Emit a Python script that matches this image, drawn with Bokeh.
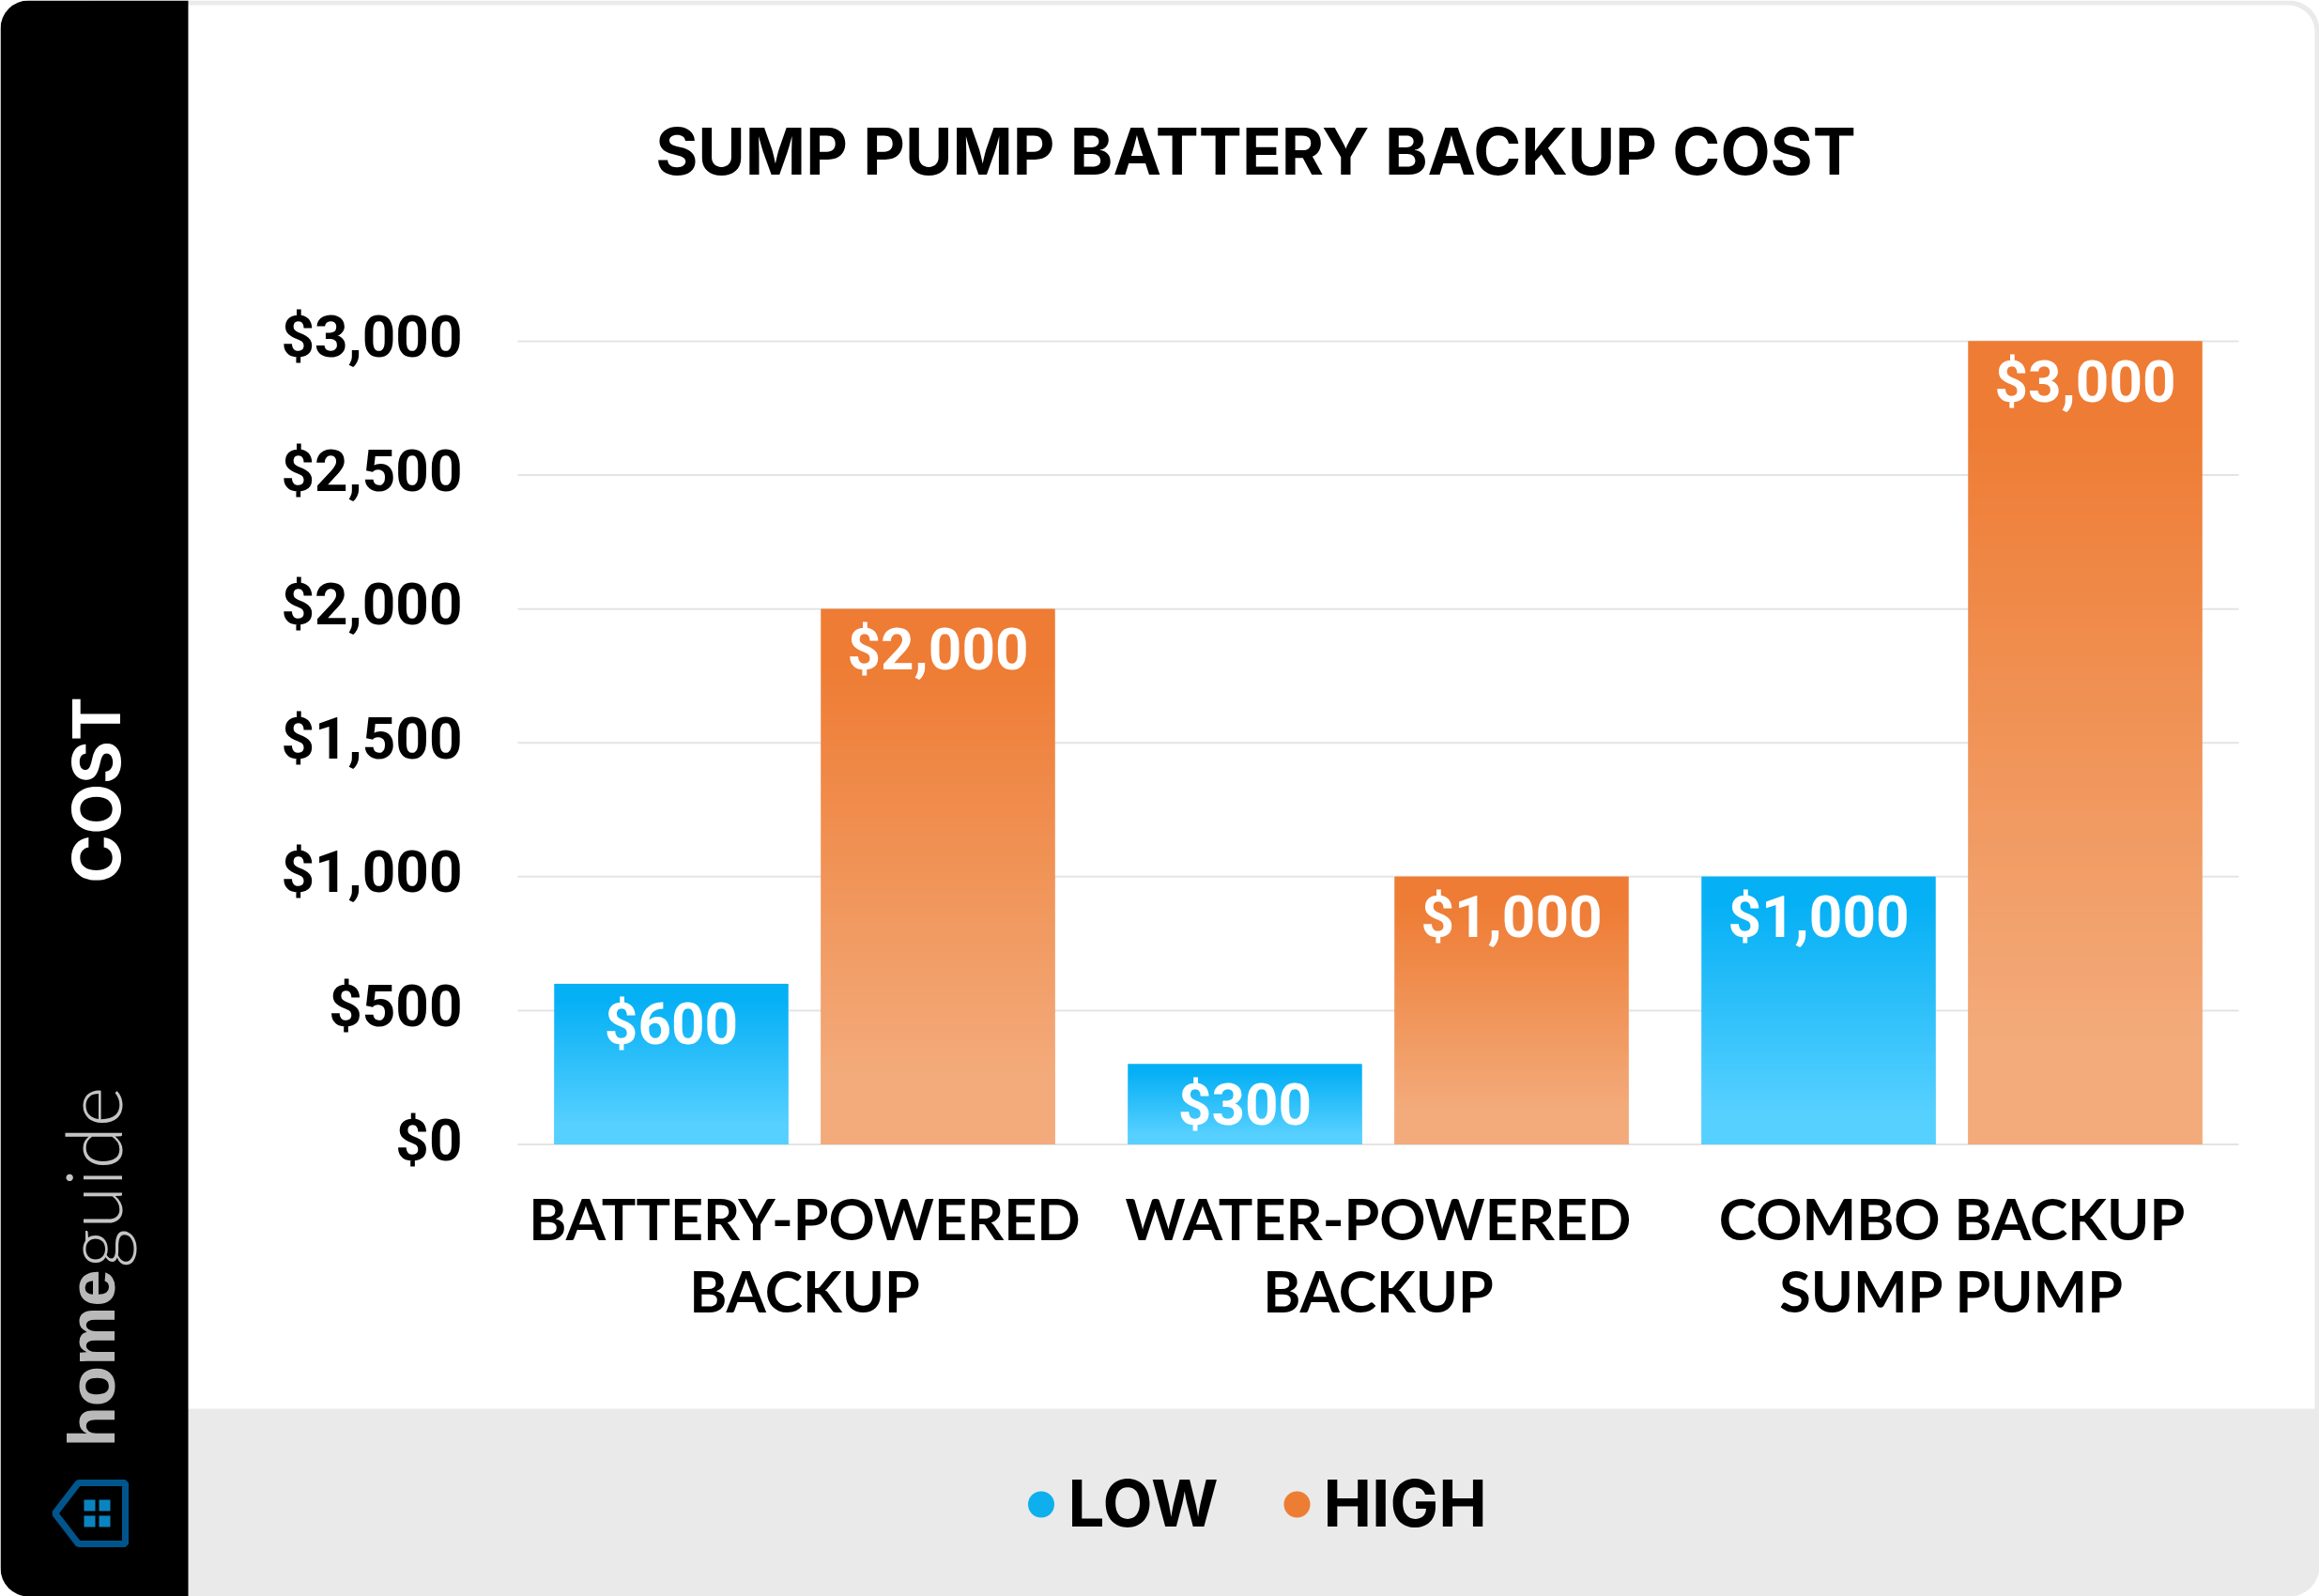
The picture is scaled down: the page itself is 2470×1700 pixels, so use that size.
import numpy as np
from bokeh.core.properties import value
from bokeh.embed import file_html
from bokeh.resources import INLINE
from bokeh.plotting import figure
from bokeh.models import Range1d, FixedTicker, Label, BoxAnnotation, ColumnDataSource

# ---- data ----
categories = ["BATTERY-POWERED\nBACKUP", "WATER-POWERED\nBACKUP", "COMBO BACKUP\nSUMP PUMP"]
low_values = [600, 300, 1000]
high_values = [2000, 1000, 3000]
y_ticks = [0, 500, 1000, 1500, 2000, 2500, 3000]
title_text = "SUMP PUMP BATTERY BACKUP COST"
y_title = "COST"
series_names = ["LOW", "HIGH"]

LOW_TOP, LOW_BOTTOM = (6, 176, 245), (86, 208, 255)
HIGH_TOP, HIGH_BOTTOM = (238, 124, 52), (243, 171, 123)

# ---- layout: the frame fills the canvas, the axes are pinned inside it ----
W, H = 2470, 1700
X0, X3 = 551, 2384      # px of x=0 and x=3
Y3000, Y0 = 363, 1218.5 # px of $3,000 and $0
ppx = (X3 - X0) / 3
ppy = (Y0 - Y3000) / 3000

p = figure(width=W, height=H, output_backend="svg", toolbar_location=None,
           x_range=Range1d(-X0 / ppx, 3 + (W - X3) / ppx),
           y_range=Range1d(-(H - Y0) / ppy, 3000 + Y3000 / ppy),
           min_border=0, min_border_left=0, min_border_right=0, min_border_top=0, min_border_bottom=0)
p.outline_line_color = None
p.background_fill_color = "white"
p.border_fill_color = "white"

p.extra_x_ranges = {"page": Range1d(0, W)}
p.extra_y_ranges = {"page": Range1d(H, 0)}
PG = dict(x_range_name="page", y_range_name="page")

def box(l, r, t, b, color, radius=0, level="underlay"):
    p.add_layout(BoxAnnotation(left=l, right=r, top=t, bottom=b, fill_color=color, fill_alpha=1, line_color=None,
                               border_radius=radius, level=level, **PG))

# ---- panels ----
box(100, W, 0, H, "#EAEAEA", radius=dict(top_left=0, top_right=32, bottom_left=0, bottom_right=32))
box(100, W - 5, 5, 1500, "white", radius=dict(top_left=0, top_right=28, bottom_left=0, bottom_right=0))
box(0, 200, 0, H, "black", radius=dict(top_left=30, top_right=0, bottom_left=30, bottom_right=0))

# ---- axes ----
x_ticks = [i + 0.5 for i in range(len(categories))]
p.xaxis.fixed_location = 0
p.xaxis.ticker = FixedTicker(ticks=x_ticks)
p.xaxis.major_label_overrides = {t: c for t, c in zip(x_ticks, categories)}
p.xaxis.axis_line_color = None
p.xaxis.major_tick_line_color = None
p.xaxis.minor_tick_line_color = None
p.xaxis.major_label_text_font = "Lato"
p.xaxis.major_label_text_font_style = "bold"
p.xaxis.major_label_text_font_size = "61px"
p.xaxis.major_label_text_color = "black"
p.xaxis.major_label_text_line_height = 1.05
p.xaxis.major_label_standoff = 36

NUDGE = 5 / ppy  # the tick labels sit slightly above their gridlines
p.yaxis.fixed_location = 0
p.yaxis.ticker = FixedTicker(ticks=[t + NUDGE for t in y_ticks])
p.yaxis.major_label_overrides = {t + NUDGE: f"${t:,}" for t in y_ticks}
p.yaxis.axis_line_color = None
p.yaxis.major_tick_line_color = None
p.yaxis.minor_tick_line_color = None
p.yaxis.major_label_text_font = "Roboto"
p.yaxis.major_label_text_font_style = "bold"
p.yaxis.major_label_text_font_size = "62px"
p.yaxis.major_label_text_color = "black"
p.yaxis.major_label_standoff = 53

p.xgrid.visible = False
p.ygrid.visible = False
p.segment(x0=[0] * len(y_ticks), x1=[3] * len(y_ticks), y0=y_ticks, y1=y_ticks, line_color="#E4E4E4", line_width=2)

# ---- bars ----
BW = 249 / 611
OFF = 142 / 611

def gradient(top, bottom, n=128):
    t = np.linspace(0, 1, n).reshape(n, 1)   # row 0 is the bar's foot
    f = np.clip((t - 0.12) / 0.78, 0, 1)     # flat at the foot, saturated at the head
    arr = np.zeros((n, 1), dtype=np.uint32)
    v = arr.view(np.uint8).reshape(n, 1, 4)
    for c in range(3):
        v[:, :, c] = np.round(bottom[c] + (top[c] - bottom[c]) * f).astype(np.uint8)
    v[:, :, 3] = 255
    return arr

for vals, sign, top, bottom in ((low_values, -1, LOW_TOP, LOW_BOTTOM), (high_values, 1, HIGH_TOP, HIGH_BOTTOM)):
    xs = [t + sign * OFF for t in x_ticks]
    src = ColumnDataSource(dict(x=xs, top=vals, label=[f"${v:,}" for v in vals]))
    p.vbar(x="x", top="top", bottom=0, width=BW, source=src, fill_color="#%02x%02x%02x" % top, line_color=None)
    for x, v in zip(xs, vals):
        p.image_rgba(image=[gradient(top, bottom)], x=x - BW / 2, y=0, dw=BW, dh=v, level="glyph")
    p.text(x="x", y="top", text="label", source=src, text_color="white", text_font=value("Roboto"),
           text_font_style="bold", text_font_size="62px", text_align="center", text_baseline="middle",
           y_offset=43)

# ---- texts ----
def lab(text, x, y, size, color="black", font="Inter", style="bold", align="center", angle=0, base="middle"):
    p.add_layout(Label(x=x, y=y, text=text, text_font=font, text_font_style=style, text_font_size=f"{size}px",
                       text_color=color, text_align=align, text_baseline=base, angle=angle,
                       angle_units="deg", **PG))

lab(title_text, 1337, 160, 69)
lab(y_title, 102, 841, 70, color="white", angle=90)

# legend
for name, cx, tx, col in ((series_names[0], 1108.5, 1137, "#0DB0EC"), (series_names[1], 1381, 1409, "#EE7D34")):
    p.scatter(x=[cx], y=[1602], size=28, marker="circle", fill_color=col, line_color=None, **PG)
    lab(name, tx, 1600, 69, align="left")

# logo
lab("home", 97, 1541, 71, color="#B9B9B9", font="Liberation Sans", align="left", angle=90, base="alphabetic")
lab("guide", 97, 1350, 82, color="#C4C4C4", font="Lato Light", style="normal", align="left", angle=90, base="alphabetic")
p.patch(x=[83, 133, 133, 83, 58], y=[1579, 1579, 1644, 1644, 1611.5], fill_alpha=0,
        line_color="#00558C", line_width=7, level="annotation", **PG)
for wx in (89, 105):
    for wy in (1597, 1614):
        box(wx, wx + 12, wy, wy + 12, "#0A84C0", level="annotation")

open("out.html", "w").write(file_html(p, INLINE))
